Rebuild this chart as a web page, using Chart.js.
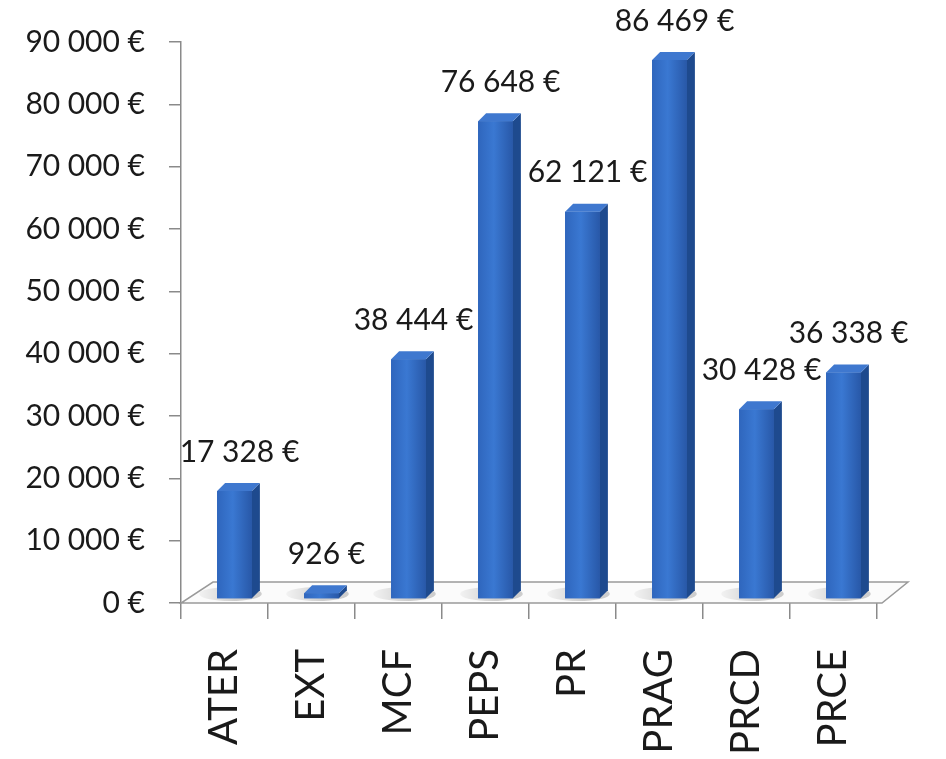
<!DOCTYPE html>
<html>
<head>
<meta charset="utf-8">
<script src="https://cdn.jsdelivr.net/npm/chart.js@4/dist/chart.umd.min.js"></script>
<style>
html,body{margin:0;padding:0;background:#fff;}
#wrap{width:946px;height:759px;}
</style>
</head>
<body>
<div id="wrap"><canvas id="c" width="946" height="759"></canvas></div>
<script>
const categories = ["ATER","EXT","MCF","PEPS","PR","PRAG","PRCD","PRCE"];
const amounts = [17328, 926, 38444, 76648, 62121, 86469, 30428, 36338];
const yTickValues = [0,10000,20000,30000,40000,50000,60000,70000,80000,90000];

const FONT = "Lato, 'Open Sans', sans-serif";
function fmtEuro(v){
  return String(Math.round(v)).replace(/\B(?=(\d{3})+(?!\d))/g, "\u202F") + " €";
}

const SHIFT_X = 10, SHIFT_Y = -4, DEPTH = 8;

const floorPlugin = {
  id: 'floor3d',
  beforeDatasetsDraw(chart){
    const {ctx, chartArea, scales} = chart;
    const y0 = scales.y.getPixelForValue(0);
    const l = chartArea.left, r = chartArea.right + 5;
    const dx = 32, dy = -21;
    ctx.save();
    ctx.beginPath();
    ctx.moveTo(l, y0);
    ctx.lineTo(r, y0);
    ctx.lineTo(r + dx - 6, y0 + dy);
    ctx.lineTo(l + dx, y0 + dy);
    ctx.closePath();
    ctx.fillStyle = '#fbfbfb';
    ctx.fill();
    ctx.strokeStyle = '#9a9a9a';
    ctx.lineWidth = 1.5;
    ctx.stroke();
    // soft shadows of bars on floor
    const meta = chart.getDatasetMeta(0);
    meta.data.forEach(bar => {
      const g = ctx.createLinearGradient(bar.x - bar.width, 0, bar.x + SHIFT_X, 0);
      g.addColorStop(0, 'rgba(160,160,160,0)');
      g.addColorStop(1, 'rgba(150,150,150,0.45)');
      ctx.beginPath();
      ctx.ellipse(bar.x + SHIFT_X - 4, y0 - 9, bar.width * 0.9, 7, 0, 0, Math.PI * 2);
      ctx.fillStyle = g;
      ctx.fill();
    });
    ctx.restore();
    ctx.save();
    ctx.translate(SHIFT_X, SHIFT_Y);
  },
  afterDatasetsDraw(chart){
    const {ctx} = chart;
    const meta = chart.getDatasetMeta(0);
    meta.data.forEach(bar => {
      const w = bar.width, x1 = bar.x - w/2, x2 = bar.x + w/2;
      const top = bar.y, base = bar.base;
      // front gradient overlay
      const g = ctx.createLinearGradient(x1, 0, x2, 0);
      g.addColorStop(0, '#2f66bd');
      g.addColorStop(0.45, '#3a78d2');
      g.addColorStop(1, '#2858a8');
      ctx.fillStyle = g;
      ctx.fillRect(x1, top, w, base - top);
      // side face
      ctx.beginPath();
      ctx.moveTo(x2, top);
      ctx.lineTo(x2 + DEPTH, top - DEPTH);
      ctx.lineTo(x2 + DEPTH, base - DEPTH);
      ctx.lineTo(x2, base);
      ctx.closePath();
      ctx.fillStyle = '#1e4a8e';
      ctx.fill();
      // top face
      ctx.beginPath();
      ctx.moveTo(x1, top);
      ctx.lineTo(x1 + DEPTH, top - DEPTH);
      ctx.lineTo(x2 + DEPTH, top - DEPTH);
      ctx.lineTo(x2, top);
      ctx.closePath();
      ctx.fillStyle = '#3f78cf';
      ctx.fill();
    });
    ctx.restore();
    // value labels
    ctx.save();
    ctx.font = "30px " + FONT;
    ctx.fillStyle = '#1a1a1a';
    ctx.textAlign = 'center';
    ctx.textBaseline = 'middle';
    meta.data.forEach((bar, i) => {
      ctx.fillText(fmtEuro(amounts[i]), bar.x + 15, bar.y - 43);
    });
    ctx.restore();
  }
};

new Chart(document.getElementById('c'), {
  type: 'bar',
  data: {
    labels: categories,
    datasets: [{
      data: amounts,
      backgroundColor: '#2f66bd',
      borderWidth: 0,
      barPercentage: 0.8,
      categoryPercentage: 0.5
    }]
  },
  options: {
    responsive: false,
    animation: false,
    events: [],
    layout: { padding: { top: 41, right: 69, left: 0, bottom: 0 } },
    plugins: { legend: { display: false }, tooltip: { enabled: false } },
    scales: {
      x: {
        offset: true,
        grid: { offset: true, drawOnChartArea: false, drawTicks: true, tickLength: 16, color: '#8a8a8a', lineWidth: 1.5 },
        border: { display: false },
        ticks: { minRotation: 90, maxRotation: 90, padding: 30, color: '#1a1a1a', font: { family: FONT, size: 40 } },
        afterFit(s){ s.height = 156; }
      },
      y: {
        min: 0, max: 90000,
        afterBuildTicks(s){ s.ticks = yTickValues.map(v => ({value: v})); },
        grid: { drawOnChartArea: false, drawTicks: true, tickLength: 12, color: '#8a8a8a', lineWidth: 1.5 },
        border: { display: true, color: '#8a8a8a', width: 1.5 },
        ticks: { padding: 24, color: '#1a1a1a', font: { family: FONT, size: 30 }, callback: v => fmtEuro(v) },
        afterFit(s){ s.width = 181; }
      }
    }
  },
  plugins: [floorPlugin]
});
</script>
</body>
</html>
